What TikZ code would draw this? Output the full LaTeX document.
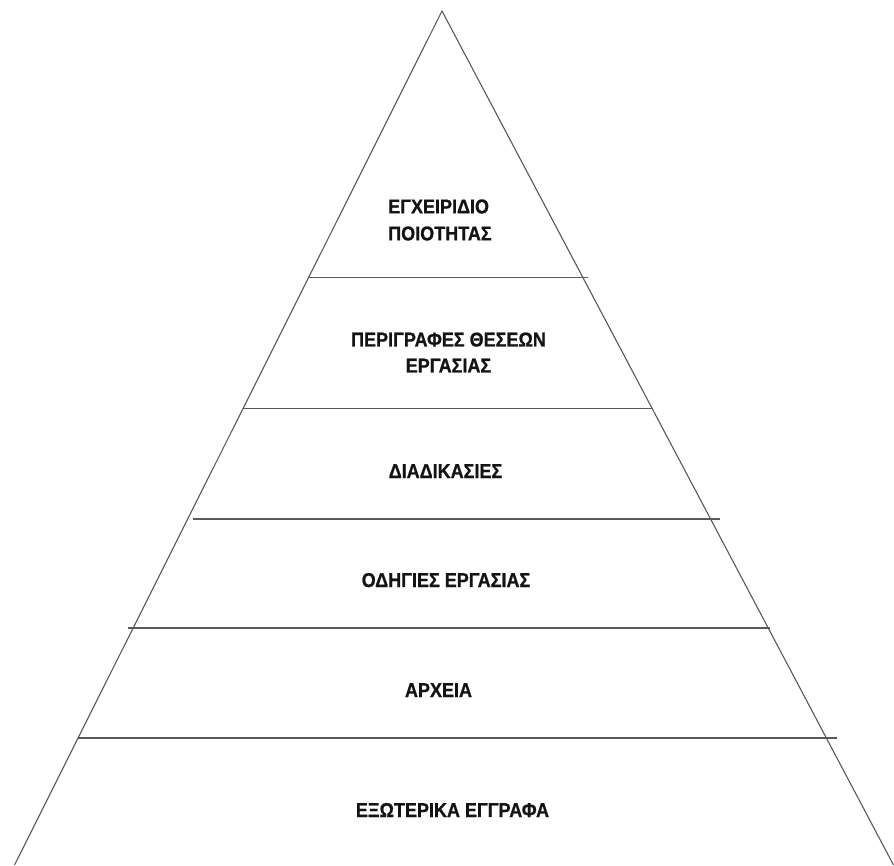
\documentclass[tikz,border=0pt]{standalone}
\usepackage{fontspec}
\setmainfont{Liberation Sans}
\newfontfamily\lvlfont{Liberation Sans}[FakeStretch=0.9,FakeBold=0.8]
\begin{document}
\begin{tikzpicture}[x=1pt,y=-1pt,
  edge/.style={draw=black!65,line width=1.1pt},
  lvl/.style={font=\lvlfont\fontsize{20pt}{27pt}\selectfont\bfseries,text=black!92,inner sep=0pt}]
\useasboundingbox (0,0) rectangle (894,865);
\fill[white] (0,0) rectangle (894,865);
% pyramid sides
\coordinate (apex) at (442,11);
\coordinate (bl) at (14.5,865);
\coordinate (br) at (893.5,865);
\draw[edge] (bl) -- (apex) -- (br);
% level separators
\coordinate (l1a) at (308,277.7); \coordinate (l1b) at (588,277.7);
\coordinate (l2a) at (243,408.5); \coordinate (l2b) at (652,408.5);
\coordinate (l3a) at (193,519);   \coordinate (l3b) at (720,519);
\coordinate (l4a) at (128,628);   \coordinate (l4b) at (770,628);
\coordinate (l5a) at (78,738);    \coordinate (l5b) at (837,738);
\draw[edge] (l1a) -- (l1b);
\draw[edge] (l2a) -- (l2b);
\draw[edge] (l3a) -- (l3b);
\draw[edge] (l4a) -- (l4b);
\draw[edge] (l5a) -- (l5b);
% labels
\node[lvl,align=left,anchor=west] (t1) at (388,220) {ΕΓΧΕΙΡΙΔΙΟ\\ΠΟΙΟΤΗΤΑΣ};
\node[lvl,align=center,font=\lvlfont\fontsize{20pt}{26pt}\selectfont\bfseries] (t2) at (448.5,352.5) {ΠΕΡΙΓΡΑΦΕΣ ΘΕΣΕΩΝ\\ΕΡΓΑΣΙΑΣ};
\node[lvl,anchor=base] (t3) at (445.5,478) {ΔΙΑΔΙΚΑΣΙΕΣ};
\node[lvl,anchor=base] (t4) at (446,587) {ΟΔΗΓΙΕΣ ΕΡΓΑΣΙΑΣ};
\node[lvl,anchor=base] (t5) at (438.5,697) {ΑΡΧΕΙΑ};
\node[lvl,anchor=base] (t6) at (452.5,817) {ΕΞΩΤΕΡΙΚΑ ΕΓΓΡΑΦΑ};
\end{tikzpicture}
\end{document}
